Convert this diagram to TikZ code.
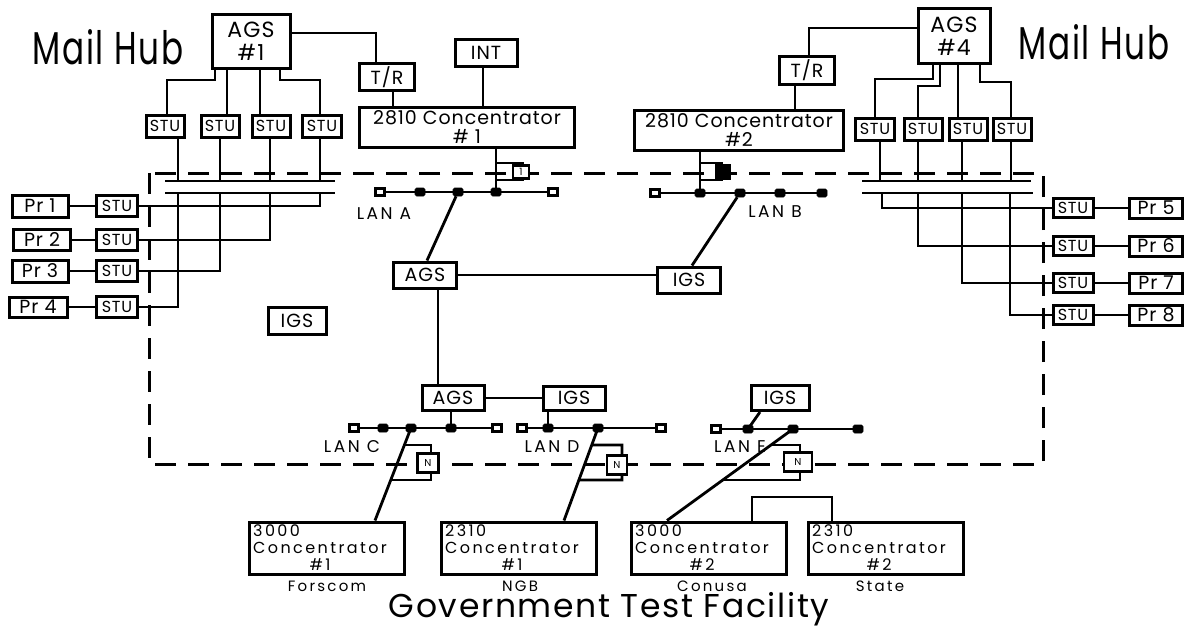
\documentclass[tikz,border=0pt]{standalone}
\usepackage{fontspec}
\setmainfont{Poppins}[LetterSpace=5]
\newcommand\szf[2]{\fontsize{#1}{#2}\selectfont}
\newcommand\wide{\addfontfeature{LetterSpace=15}}
\newcommand\lowtext[2]{\begin{tabular}{@{}l@{}}#1\\Concentrator\\\multicolumn{1}{@{}c@{}}{#2}\end{tabular}}
\begin{document}
\begin{tikzpicture}[x=1pt,y=-1pt,
  wire/.style={line width=2.8pt},
  thinwire/.style={line width=2.1pt},
  border/.style={line width=3pt,dash pattern=on 21pt off 12pt},
  box/.style={draw,line width=3pt,fill=white,inner sep=0pt,align=center,font=\szf{19}{21}},
  sz/.style 2 args={minimum width=#1pt,minimum height=#2pt},
  stubox/.style={box,font=\szf{16}{16}},
  prbox/.style={box,font=\szf{19}{19}},
  concbox/.style={box,font=\szf{19}{19}},
  lowbox/.style={box,sz={155}{52}},
  lowtxt/.style={font=\szf{16}{17}\wide,anchor=north west,inner sep=0pt},
  brbox/.style={draw,line width=2.4pt,fill=white,inner sep=0pt,font=\szf{10}{10}},
  tapf/.style={draw,fill,line width=0.6pt,minimum width=10pt,minimum height=8pt,inner sep=0pt,rounded corners=1.5pt},
  tapo/.style={draw,fill=white,line width=2.4pt,minimum width=9pt,minimum height=7pt,inner sep=0pt},
  lan/.style={font=\szf{17}{17}\wide,inner sep=0pt},
  site/.style={font=\szf{15}{15}\wide,inner sep=0pt},
  hub/.style={inner sep=0pt}]
\useasboundingbox (0,0) rectangle (1190,629);

% site boundary
\draw[border] (149,173) rectangle (1043,464);

% ---------------- left mail hub ----------------
\node[hub] (hubL) at (108,47) {\scalebox{0.71}[1]{\szf{46}{46}Mail Hub}};
\node[box,sz={78}{54},font=\szf{22}{23}] (ags1) at (251,41) {AGS\\\#1};
\node[box,sz={55}{27}] (trL) at (387,77) {T/R};
\node[box,sz={62}{27}] (int) at (486,53) {INT};
\node[concbox,sz={215}{40}] (conc1) at (467,127) {2810 Concentrator\\\# 1};

\node[stubox,sz={38}{22}] (stuT1) at (165,126) {STU};
\node[stubox,sz={38}{22}] (stuT2) at (220,126) {STU};
\node[stubox,sz={38}{22}] (stuT3) at (271,126) {STU};
\node[stubox,sz={39}{22}] (stuT4) at (322,126) {STU};

\draw[wire] (ags1.south -| 215,0) |- (167,80) -- (stuT1.north -| 167,0);
\draw[wire] (ags1.south -| 227,0) -- (stuT2.north -| 227,0);
\draw[wire] (ags1.south -| 260,0) -- (stuT3.north -| 260,0);
\draw[wire] (ags1.south -| 280,0) |- (320,80) -- (stuT4.north -| 320,0);

\draw[wire] (stuT1.south -| 178,0) -- (178,181);
\draw[wire] (stuT2.south -| 220,0) -- (220,181);
\draw[wire] (stuT3.south -| 270,0) -- (270,181);
\draw[wire] (stuT4.south -| 320,0) -- (320,181);
\draw[wire] (165,181) -- (335,181);
\draw[wire] (165,193) -- (335,193);

\node[prbox,sz={56}{22}] (pl1) at (40,206) {Pr 1};
\node[prbox,sz={57}{21}] (pl2) at (42,240) {Pr 2};
\node[prbox,sz={56}{22}] (pl3) at (40,271) {Pr 3};
\node[prbox,sz={58}{20}] (pl4) at (38,307) {Pr 4};
\node[stubox,sz={41}{21}] (sl1) at (117,206) {STU};
\node[stubox,sz={41}{21}] (sl2) at (117,240) {STU};
\node[stubox,sz={41}{21}] (sl3) at (117,271) {STU};
\node[stubox,sz={41}{21}] (sl4) at (117,307) {STU};
\draw[wire] (pl1) -- (sl1);
\draw[wire] (pl2) -- (sl2);
\draw[wire] (pl3) -- (sl3);
\draw[wire] (pl4) -- (sl4);
\draw[wire] (sl1.east) -| (320,193);
\draw[wire] (sl2.east) -| (270,193);
\draw[wire] (sl3.east) -| (220,193);
\draw[wire] (sl4.east) -| (178,193);

\draw[wire] (ags1.east |- 0,33) -| (trL.north -| 376,0);
\draw[wire] (trL.south -| 393,0) -- (conc1.north -| 393,0);
\draw[wire] (int.south -| 483,0) -- (conc1.north -| 483,0);

% LAN A
\coordinate (a1) at (380,192);
\coordinate (a2) at (420,192);
\coordinate (a3) at (458,192);
\coordinate (a4) at (496,192);
\coordinate (a5) at (553,192);
\draw[wire] (a1) -- (a5);
\draw[wire] (conc1.south -| a4) -- (a4);
\draw[wire] (496,163) -| (523,180) -- (496,180);
\node[brbox,minimum width=16pt,minimum height=13pt] (brA) at (521,172) {1};
\node[tapo] (a1m) at (a1) {};
\node[tapf] (a2m) at (a2) {};
\node[tapf] (a3m) at (a3) {};
\node[tapf] (a4m) at (a4) {};
\node[tapo] (a5m) at (a5) {};
\node[lan] (lanA) at (384,214) {LAN A};

% ---------------- right mail hub ----------------
\node[hub] (hubR) at (1094,42) {\scalebox{0.71}[1]{\szf{46}{46}Mail Hub}};
\node[box,sz={72}{55},font=\szf{22}{23}] (ags4) at (954,36) {AGS\\\#4};
\node[box,sz={55}{28}] (trR) at (807,70) {T/R};
\node[concbox,sz={209}{40}] (conc2) at (739,130) {2810 Concentrator\\\#2};

\node[stubox,sz={39}{22}] (stuR1) at (875,129) {STU};
\node[stubox,sz={38}{22}] (stuR2) at (923,129) {STU};
\node[stubox,sz={38}{22}] (stuR3) at (968,129) {STU};
\node[stubox,sz={38}{22}] (stuR4) at (1012,129) {STU};

\draw[wire] (ags4.south -| 933,0) |- (875,79) -- (stuR1.north -| 875,0);
\draw[wire] (ags4.south -| 940,0) |- (918,86) -- (stuR2.north -| 918,0);
\draw[wire] (ags4.south -| 958,0) -- (stuR3.north -| 958,0);
\draw[wire] (ags4.south -| 980,0) |- (1011,82) -- (stuR4.north -| 1011,0);

\draw[wire] (stuR1.south -| 880,0) -- (880,181);
\draw[wire] (stuR2.south -| 918,0) -- (918,181);
\draw[wire] (stuR3.south -| 962,0) -- (962,181);
\draw[wire] (stuR4.south -| 1011,0) -- (1011,181);
\draw[wire] (862,181) -- (1031,181);
\draw[wire] (862,193) -- (1033,193);

\node[stubox,sz={40}{19}] (sr5) at (1073,208) {STU};
\node[stubox,sz={40}{19}] (sr6) at (1073,246) {STU};
\node[stubox,sz={40}{19}] (sr7) at (1073,283) {STU};
\node[stubox,sz={40}{19}] (sr8) at (1073,315) {STU};
\node[prbox,sz={53}{20}] (pr5) at (1156,208) {Pr 5};
\node[prbox,sz={53}{20}] (pr6) at (1156,246) {Pr 6};
\node[prbox,sz={53}{20}] (pr7) at (1156,283) {Pr 7};
\node[prbox,sz={53}{20}] (pr8) at (1156,315) {Pr 8};
\draw[wire] (sr5) -- (pr5);
\draw[wire] (sr6) -- (pr6);
\draw[wire] (sr7) -- (pr7);
\draw[wire] (sr8) -- (pr8);
\draw[wire] (882,193) |- (sr5.west);
\draw[wire] (918,193) |- (sr6.west);
\draw[wire] (962,193) |- (sr7.west);
\draw[wire] (1010,193) |- (sr8.west);

\draw[wire] (ags4.west |- 0,28) -| (trR.north -| 809,0);
\draw[wire] (trR.south -| 795,0) -- (conc2.north -| 795,0);

% LAN B
\coordinate (b1) at (655,193);
\coordinate (b2) at (700,193);
\coordinate (b3) at (740,193);
\coordinate (b4) at (780,193);
\coordinate (b5) at (822,193);
\draw[wire] (b1) -- (b5);
\draw[wire] (conc2.south -| b2) -- (b2);
\draw[wire] (700,163) -| (722,180) -- (700,180);
\node[brbox,fill=black,minimum width=14pt,minimum height=14pt] (brB) at (723,172) {};
\node[tapo] (b1m) at (b1) {};
\node[tapf] (b2m) at (b2) {};
\node[tapf] (b3m) at (b3) {};
\node[tapf] (b4m) at (b4) {};
\node[tapf] (b5m) at (b5) {};
\node[lan] (lanB) at (775,212) {LAN B};

% ---------------- backbone gateways ----------------
\node[box,sz={63}{26}] (agsM) at (425,275) {AGS};
\node[box,sz={63}{26}] (igsM) at (689,280) {IGS};
\node[box,sz={58}{27}] (igsL) at (297,321) {IGS};
\draw[wire] (a3m) -- (agsM.north -| 427,0);
\draw[wire] (igsM.north -| 692,0) -- (b3m);
\draw[thinwire] (agsM.east) -- (agsM.east -| igsM.west);

\node[box,sz={62}{25}] (agsL) at (453,398) {AGS};
\node[box,sz={62}{24}] (igsD) at (574,398) {IGS};
\node[box,sz={58}{25}] (igsE) at (780,398) {IGS};
\draw[wire] (agsM.south -| 438,0) -- (agsL.north -| 438,0);
\draw[thinwire] (agsL) -- (igsD);

% LAN C, D, E
\coordinate (c1) at (354,428);
\coordinate (c2) at (383,428);
\coordinate (c3) at (411,428);
\coordinate (c4) at (451,428);
\coordinate (c5) at (497,428);
\coordinate (d1) at (522,428);
\coordinate (d2) at (548,428);
\coordinate (d3) at (598,428);
\coordinate (d4) at (661,428);
\coordinate (e1) at (716,429);
\coordinate (e2) at (748,429);
\coordinate (e3) at (793,429);
\coordinate (e4) at (858,429);
\draw[wire] (c1) -- (c5);
\draw[wire] (d1) -- (d4);
\draw[wire] (e1) -- (e4);
\draw[wire] (agsL.south -| c4) -- (c4);
\draw[wire] (igsD.south -| d2) -- (d2);
\draw[wire] (igsE.south -| 760,0) -- (e2);

% site concentrators
\node[lowbox] (cb1) at (327,548) {};
\node[lowbox] (cb2) at (519,548) {};
\node[lowbox] (cb3) at (709,548) {};
\node[lowbox] (cb4) at (886,548) {};
\node[lowtxt] (t1) at ([shift={(5,4)}]cb1.north west) {\lowtext{3000}{\#1}};
\node[lowtxt] (t2) at ([shift={(5,4)}]cb2.north west) {\lowtext{2310}{\#1}};
\node[lowtxt] (t3) at ([shift={(5,4)}]cb3.north west) {\lowtext{3000}{\#2}};
\node[lowtxt] (t4) at ([shift={(5,4)}]cb4.north west) {\lowtext{2310}{\#2}};
\node[site] (s1) at (327,586) {Forscom};
\node[site] (s2) at (520,586) {NGB};
\node[site] (s3) at (712,586) {Conusa};
\node[site] (s4) at (880,586) {State};

\coordinate (cT) at (cb1.north -| 375,0);
\coordinate (dT) at (cb2.north -| 564,0);
\coordinate (eT) at (cb3.north -| 667,0);
\draw[wire] (c3) -- (cT);
\draw[wire] (d3) -- (dT);
\draw[wire] (e3) -- (eT);
\draw[wire] (cb3.north -| 752,0) |- (832,497) -- (cb4.north -| 832,0);

% bridges on the site boundary
\draw[wire] (intersection of c3--cT and 0,445--10,445) -| (431,480) -- (intersection of c3--cT and 0,480--10,480);
\draw[wire] (intersection of d3--dT and 0,445--10,445) -| (622,480) -- (intersection of d3--dT and 0,480--10,480);
\draw[wire] (intersection of e3--eT and 0,445--10,445) -| (800,480) -- (intersection of e3--eT and 0,480--10,480);
\node[brbox,minimum width=21pt,minimum height=19pt] (brC) at (428,463) {N};
\node[brbox,minimum width=20pt,minimum height=19pt] (brD) at (617,465) {N};
\node[brbox,minimum width=28pt,minimum height=19pt] (brE) at (798,462) {N};

\node[tapo] (c1m) at (c1) {};
\node[tapf] (c2m) at (c2) {};
\node[tapf] (c3m) at (c3) {};
\node[tapf] (c4m) at (c4) {};
\node[tapo] (c5m) at (c5) {};
\node[tapo] (d1m) at (d1) {};
\node[tapf] (d2m) at (d2) {};
\node[tapf] (d3m) at (d3) {};
\node[tapo] (d4m) at (d4) {};
\node[tapo] (e1m) at (e1) {};
\node[tapf] (e2m) at (e2) {};
\node[tapf] (e3m) at (e3) {};
\node[tapf] (e4m) at (e4) {};
\node[lan] (lanC) at (352,447) {LAN C};
\node[lan] (lanD) at (552,447) {LAN D};
\node[lan] (lanE) at (740,447) {LAN E};

\node[inner sep=0pt,font=\szf{33}{33}] (title) at (609,609) {Government Test Facility};
\end{tikzpicture}
\end{document}
